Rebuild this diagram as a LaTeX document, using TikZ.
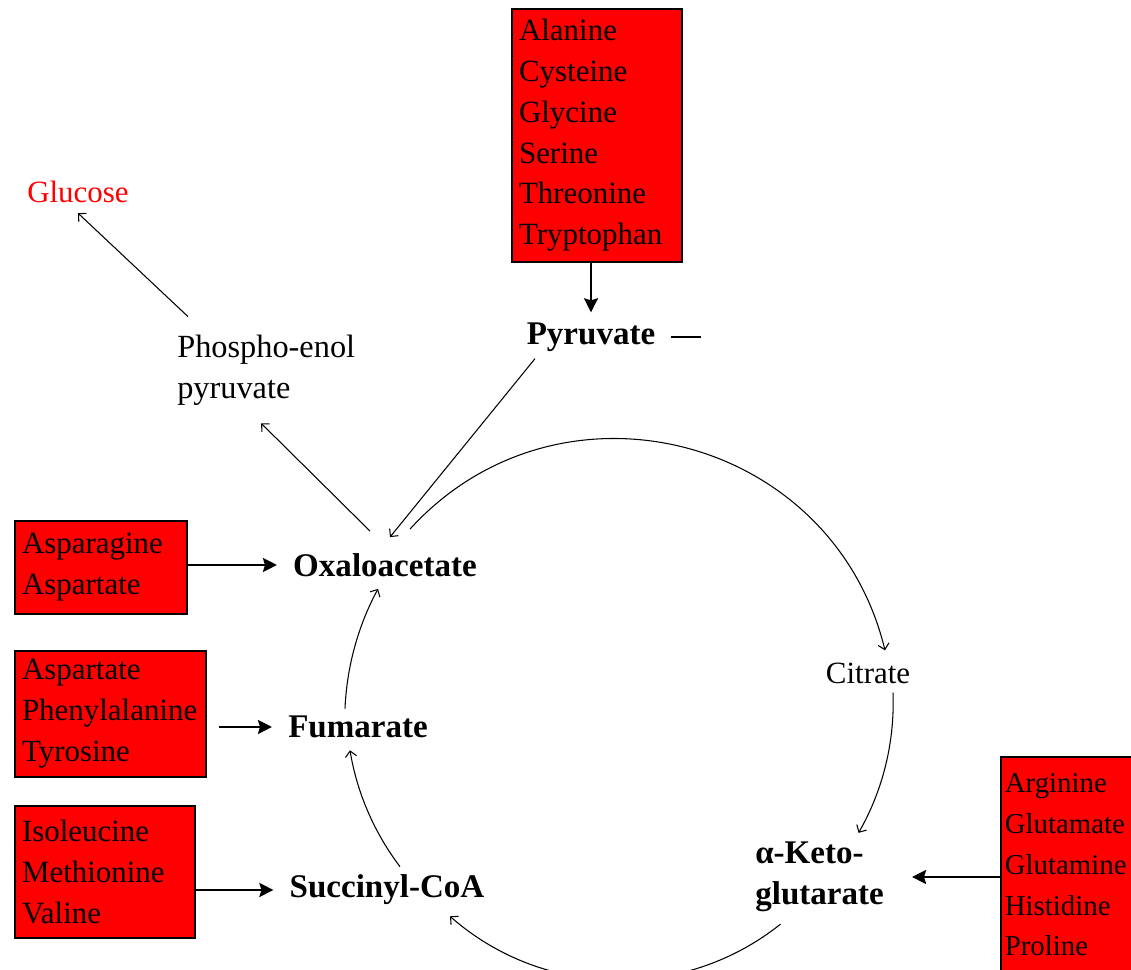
\documentclass[tikz,border=0pt]{standalone}
\usepackage{fontspec}
\setmainfont{Liberation Serif}
\usepackage{tikz}
\usetikzlibrary{arrows.meta,positioning,calc}
\definecolor{aared}{RGB}{255,0,0}

\begin{document}
\begin{tikzpicture}[
    x=0.025cm, y=0.025cm,
    every node/.style={font=\fontsize{22}{29}\selectfont, inner sep=0.25cm},
    aabox/.style 2 args={draw, fill=aared, line width=1.2pt, anchor=north west, align=left, inner xsep=0.18cm, inner ysep=0pt, text width=#1, minimum height=#2},
    metab/.style={font=\fontsize{23.5}{29}\selectfont\bfseries, inner xsep=0.4cm},
    feed/.style={-{Stealth[length=10pt, width=10pt, inset=1.5pt]}, line width=1.4pt},
    flow/.style={-{Straight Barb[length=4pt, width=8pt]}, line width=0.75pt}
]
\useasboundingbox (0,0) rectangle (1131,970);
\clip (0,0) rectangle (1131,970);

% === Metabolites ===
\node[metab] (pyr) at (591,633) {Pyruvate};
\node[metab] (oxa) at (385,405) {Oxaloacetate};
\node[metab] (fum) at (358,243) {Fumarate};
\node[metab] (succ) at (387,80) {Succinyl-CoA};
\node[metab, align=left, anchor=west] (akg) at (739,93) {α-Keto-\\glutarate};
\node (cit) at (868,297) {Citrate};
\node[font=\fontsize{23}{29}\selectfont, align=left, anchor=west] (pep) at (167,600) {Phospho-enol\\pyruvate};
\node[text=aared] (glu) at (78,778) {Glucose};

% === Amino acids ===
\node[aabox={3.89cm}{6.325cm}] (aa1) at (511,962) {Alanine\\Cysteine\\Glycine\\Serine\\Threonine\\Tryptophan};
\node[aabox={3.94cm}{2.325cm}] (asn) at (14,450) {Asparagine\\Aspartate};
\node[aabox={4.415cm}{3.15cm}] (phe) at (14,320) {Aspartate\\Phenylalanine\\Tyrosine};
\node[aabox={4.14cm}{3.3cm}] (ile) at (14,165) {Isoleucine\\Methionine\\Valine};
\node[aabox={3.6cm}{5.4cm}, inner xsep=0.1cm, font=\fontsize{20.5}{29}\selectfont] (arg) at (1000,214) {Arginine\\Glutamate\\Glutamine\\Histidine\\Proline};

\draw[feed] (aa1.south -| pyr.north) -- (pyr.north);
\draw[feed] (asn.east |- oxa.west) -- (oxa.west);
\draw[feed, shorten <=0.3cm] (phe.east |- fum.west) -- (fum.west);
\draw[feed] (ile.east |- succ.west) -- (succ.west);
\draw[feed, shorten >=0.3cm] (arg.west |- akg.east) -- (akg.east);

% === Side branches ===
\draw[flow] ($(pep.north west)+(21,8)$) -- (glu.south);
\draw[flow] ($(oxa.north)+(-15,12)$) -- ($(pep.south)+(-5,-8)$);
\draw[flow] ($(pyr.south)+(-56,3)$) -- ($(oxa.north)+(5,6)$);
\coordinate (pyrend) at ($(pyr.east)+(29,0)$);
\draw[line width=0.75pt] ($(pyr.east)+(-1,0)$) -- (pyrend);

% === Cycle ===
\draw[flow] ($(oxa.north)+(25,14)$) to[bend left=62, looseness=1.16] ($(cit.north)+(17,2)$);
\draw[flow] ($(cit.south)+(25,1)$) to[bend left=16, looseness=0.87] ($(akg.north)+(39,-1)$);
\draw[flow] ($(akg.south)+(-39,-2)$) to[bend left=40, looseness=0.96] ($(succ.south)+(63,-1)$);
\draw[flow] ($(succ.north)+(13,-2)$) to[bend left=14, looseness=0.86] ($(fum.south)+(-8,-2)$);
\draw[flow] ($(fum.north)+(-13,-3)$) to[bend left=13, looseness=0.86] ($(oxa.south)+(-7,-2)$);

\end{tikzpicture}
\end{document}
